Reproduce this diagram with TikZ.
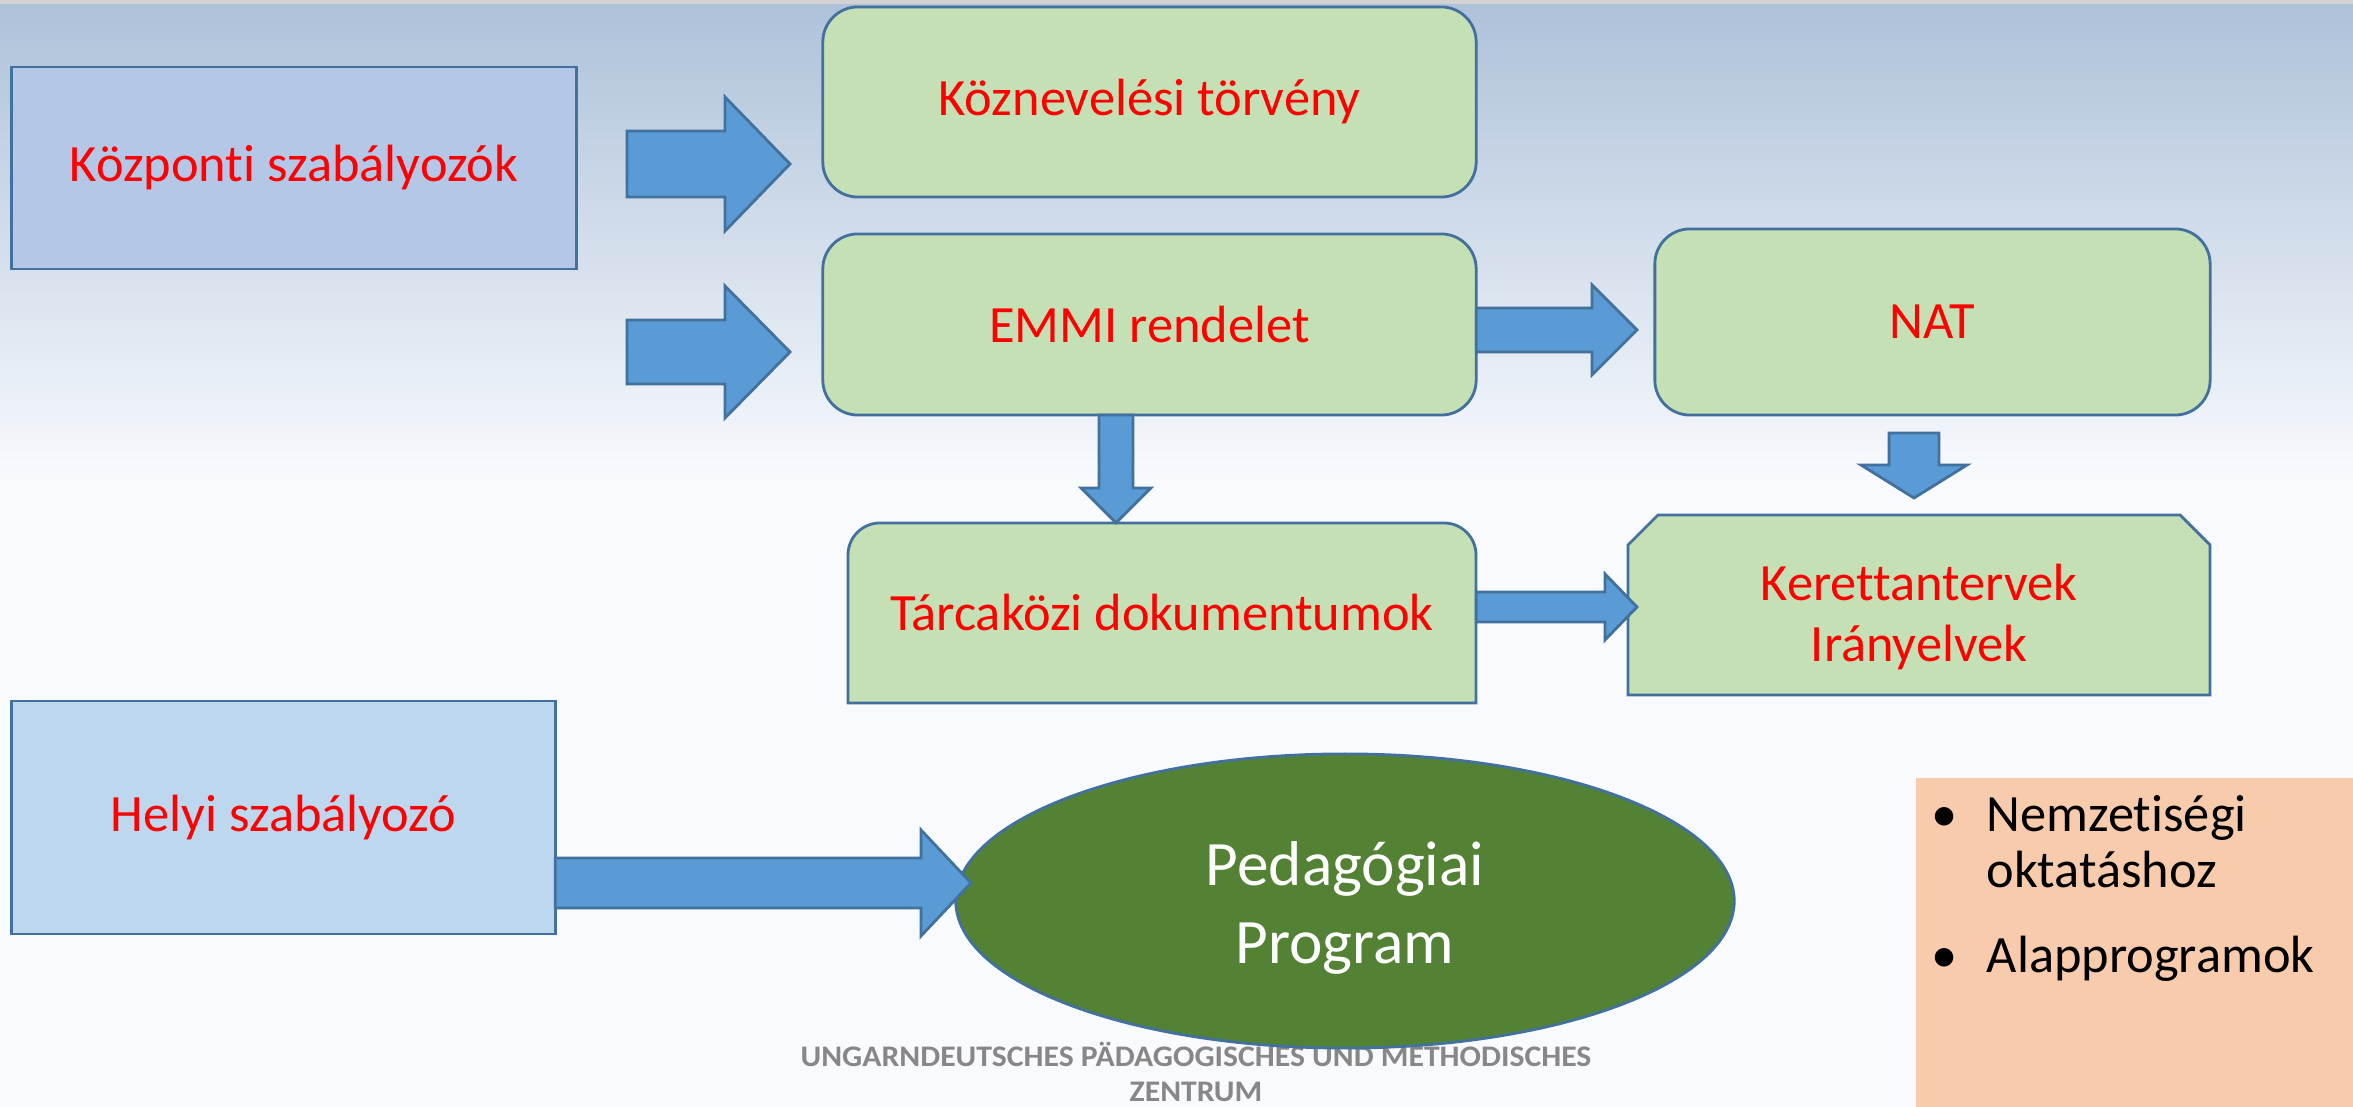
\documentclass[tikz,border=0pt]{standalone}
\usepackage{fontspec}
\setmainfont{Carlito}[Ligatures=NoCommon]
\newfontfamily\footfont[FakeStretch=1.06,Ligatures=NoCommon]{Carlito}
\usetikzlibrary{calc,shapes.geometric}
\definecolor{edgeblue}{HTML}{41719C}
\definecolor{arrowblue}{HTML}{5B9BD5}
\definecolor{kozpfill}{HTML}{B4C7E7}
\definecolor{helyifill}{HTML}{BDD7EE}
\definecolor{greenfill}{HTML}{C5E0B4}
\definecolor{pedgreen}{HTML}{548235}
\definecolor{orangefill}{HTML}{F8CBAD}
\definecolor{footgray}{HTML}{878787}
\definecolor{bgtop}{HTML}{ADC1D9}
\definecolor{bgbot}{HTML}{F8FAFD}

\begin{document}
\begin{tikzpicture}[x=0.01cm,y=-0.01cm,
    redtxt/.style={text=red,font=\fontsize{14.9}{17.5}\selectfont},
    regbox/.style={draw=edgeblue,line width=0.8pt,inner sep=0pt,outer sep=0pt,redtxt},
    greenbox/.style={regbox,fill=greenfill,rounded corners=0.35cm},
    blockarrow/.style={draw=edgeblue,fill=arrowblue,line width=0.8pt},
    bullettxt/.style={font=\fontsize{14.9}{17.5}\selectfont,inner sep=0pt},
    footer/.style={text=footgray,font=\footfont\bfseries\fontsize{8.5}{9}\selectfont,inner sep=0pt}]
    \useasboundingbox (0,0) rectangle (2353,1107);
    \fill[bgbot] (0,0) rectangle (2353,1107);
    \fill[top color=bgtop,bottom color=bgbot] (0,0) rectangle (2353,480);
    \fill[gray!35] (0,0) rectangle (2353,4);

    \node[regbox,fill=kozpfill,minimum width=5.64cm,minimum height=2.02cm] (kozp) at (294,168) {Központi szabályozók};
    \node[greenbox,minimum width=6.53cm,minimum height=1.90cm] (koznev) at (1149.5,102) {Köznevelési törvény};
    \node[greenbox,minimum width=6.53cm,minimum height=1.81cm] (emmi) at (1149.5,324.5) {EMMI rendelet};
    \node[greenbox,minimum width=5.55cm,minimum height=1.86cm] (nat) at (1932.5,322) {NAT};

    \draw[line width=0.8pt,draw=edgeblue,fill=greenfill] (848,703) -- (848,555)
      arc[start angle=180,end angle=90,radius=0.32cm] -- (1444,523)
      arc[start angle=90,end angle=0,radius=0.32cm] -- (1476,703) -- cycle;
    \node[regbox,draw=none,minimum width=6.28cm,minimum height=1.80cm] (tarca) at (1162,613) {Tárcaközi dokumentumok};

    \draw[line width=0.8pt,draw=edgeblue,fill=greenfill] (1628,695) -- (1628,545) -- (1658,515)
      -- (2180,515) -- (2210,545) -- (2210,695) -- cycle;
    \node[regbox,draw=none,align=center] (keret) at (1919,617) {Kerettantervek\\Irányelvek};

    \node[regbox,fill=helyifill,minimum width=5.43cm,minimum height=2.33cm] (helyi) at (283.5,817.5) {Helyi szabályozó};

    \node[footer,anchor=base] (foot1) at (1196,1067) {UNGARNDEUTSCHES PÄDAGOGISCHES UND METHODISCHES};
    \node[footer,anchor=base] (foot2) at (1196,1102) {ZENTRUM};

    \node[ellipse,draw=edgeblue,fill=pedgreen,line width=0.8pt,inner sep=0pt,
      minimum width=7.78cm,minimum height=2.94cm] (ped) at (1345,901) {};
    \node[text=white,align=center,inner sep=0pt,font=\fontsize{18}{22}\selectfont] (pedtxt) at (1345,908) {Pedagógiai\\Program};

    \node[fill=orangefill,inner sep=0pt,outer sep=0pt,minimum width=4.37cm,minimum height=3.29cm] (nemz) at (2134.5,942.5) {};
    \node[bullettxt,anchor=base] (dot1) at (1945,832) {\textbullet};
    \node[bullettxt,anchor=base] (dot2) at (1945,973) {\textbullet};
    \foreach \n/\y/\t in {line1/832/Nemzetiségi,line2/888/oktatáshoz,line3/973/Alapprogramok}{
      \node[bullettxt,anchor=base west] (\n) at (1986,\y) {\t};
    }

    \coordinate (a1s) at (627,164);
    \coordinate (a1t) at (790,164);
    \coordinate (a2s) at (627,352);
    \coordinate (a2t) at (790,352);
    \coordinate (a3s) at (emmi.east |- 0,330);
    \coordinate (a3t) at (1637,330);
    \coordinate (a4s) at (tarca.east |- 0,607);
    \coordinate (a4t) at (1637,607);
    \coordinate (a5s) at (emmi.south -| 1116,0);
    \coordinate (a5t) at (tarca.north -| 1116,0);
    \coordinate (a6s) at (1914,433);
    \coordinate (a6t) at (1914,498);
    \coordinate (a7s) at (helyi.east |- 0,883);
    \coordinate (a7t) at (971,883);
    \foreach \a/\b/\s/\h/\l in {
      a1s/a1t/0.33cm/0.67cm/0.65cm,
      a2s/a2t/0.32cm/0.66cm/0.65cm,
      a3s/a3t/0.22cm/0.45cm/0.45cm,
      a4s/a4t/0.15cm/0.33cm/0.32cm,
      a5s/a5t/0.17cm/0.35cm/0.35cm,
      a6s/a6t/0.25cm/0.53cm/0.33cm,
      a7s/a7t/0.25cm/0.53cm/0.50cm
    }{
      \path ($(\b)!\l!(\a)$) coordinate (hb);
      \draw[blockarrow] ($(\a)!\s!90:(\b)$) -- ($(hb)!\s!90:(\b)$) -- ($(hb)!\h!90:(\b)$) -- (\b)
        -- ($(hb)!\h!-90:(\b)$) -- ($(hb)!\s!-90:(\b)$) -- ($(\a)!\s!-90:(\b)$) -- cycle;
    }
\end{tikzpicture}
\end{document}
